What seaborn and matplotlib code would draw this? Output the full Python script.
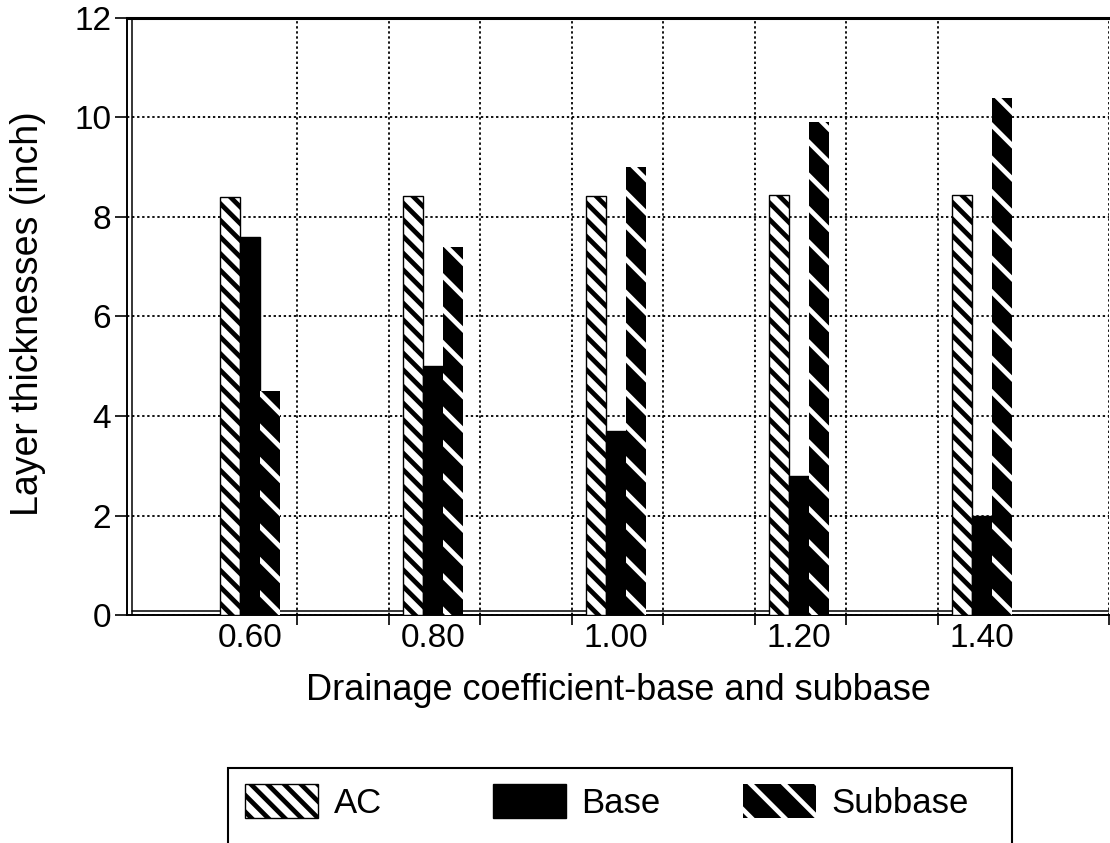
import matplotlib
matplotlib.use("Agg")
import matplotlib.pyplot as plt
import pandas as pd
import seaborn as sns
from matplotlib.patches import Patch, Rectangle
from matplotlib.lines import Line2D

# ---- data ----
categories = ["0.60", "0.80", "1.00", "1.20", "1.40"]
series = ["AC", "Base", "Subbase"]
ac_values = [8.40, 8.42, 8.43, 8.44, 8.45]
base_values = [7.6, 5.0, 3.7, 2.8, 2.0]
subbase_values = [4.5, 7.4, 9.0, 9.9, 10.4]
y_ticks = [0, 2, 4, 6, 8, 10, 12]
x_label = "Drainage coefficient-base and subbase"
y_label = "Layer thicknesses (inch)"

df = pd.DataFrame({
    "coef": categories * 3,
    "layer": [s for s in series for _ in categories],
    "value": ac_values + base_values + subbase_values,
})

# fill style per series: (face, hatch/edge colour, hatch, edge width)
styles = {
    "AC": ("white", "black", "\\\\", 1.0),
    "Base": ("black", "black", None, 1.0),
    "Subbase": ("black", "white", "\\", 0.0),
}
HATCH_LW = 3.4

sns.set_theme(style="white")
plt.rcParams["font.family"] = ["Liberation Sans", "DejaVu Sans"]
plt.rcParams["text.color"] = "black"
plt.rcParams["hatch.linewidth"] = HATCH_LW

W, H = 1110, 843
fig = plt.figure(figsize=(W / 100, H / 100), dpi=100)
ax_left, ax_right, ax_top, ax_bottom = 127, 1109, 18, 615
ax = fig.add_axes([ax_left / W, 1 - ax_bottom / H, (ax_right - ax_left) / W, (ax_bottom - ax_top) / H])

sns.barplot(data=df, x="coef", y="value", hue="layer", order=categories,
            hue_order=series, palette={s: "black" for s in series},
            saturation=1, width=0.33, gap=0, errorbar=None, legend=False,
            ax=ax, zorder=3)

def style_patch(p, name):
    face, edge, hatch, lw = styles[name]
    p.set_facecolor(face)
    p.set_edgecolor(edge)
    p.set_linewidth(lw)
    p.set_hatch(hatch)
    if hasattr(p, "set_hatch_linewidth"):
        p.set_hatch_linewidth(HATCH_LW)

for cont, name in zip(ax.containers, series):
    for bar in cont:
        style_patch(bar, name)

# axes limits (3D-style chart frame)
n = len(categories)
ax.set_xlim(-0.672, n - 1 + 0.694)
ax.set_ylim(y_ticks[0], y_ticks[-1])
ax.set_yticks(y_ticks)
ax.set_xticks(range(n))
ax.set_xticklabels(categories)
minor = [0.257 + 0.5 * k for k in range(2 * n - 2)] + [n - 1 + 0.694]
ax.set_xticks(minor, minor=True)

ax.tick_params(axis="x", which="major", length=0, pad=6, labelsize=24, colors="black")
ax.tick_params(axis="x", which="minor", length=7.5, width=1.2, direction="out",
               bottom=True, color="black")
ax.tick_params(axis="y", which="major", length=8.5, width=1.2, direction="out",
               left=True, pad=3, labelsize=24, colors="black")

dot = (0, (1.3, 1.5))
ax.grid(False)
ax.grid(axis="y", which="major", color="black", linestyle=dot, linewidth=1.3)
ax.grid(axis="x", which="minor", color="black", linestyle=dot, linewidth=1.3)
ax.set_axisbelow(True)

for side in ["left", "bottom"]:
    ax.spines[side].set_color("black")
    ax.spines[side].set_linewidth(1.4)
ax.spines["top"].set_color("black")
ax.spines["top"].set_linewidth(2.2)
ax.spines["right"].set_visible(False)

# 3D wall / floor double lines
ax.add_line(Line2D([5 / 982, 5 / 982], [0, 1], transform=ax.transAxes,
                   color="black", lw=1.1, zorder=2))
ax.add_line(Line2D([5 / 982, 1], [4 / 597, 4 / 597], transform=ax.transAxes,
                   color="black", lw=1.1, zorder=2))

ax.set_xlabel(x_label, fontsize=26, color="black")
ax.set_ylabel(y_label, fontsize=27, color="black")
ax.xaxis.set_label_coords(0.5, (615 - 673) / 597)
ax.yaxis.set_label_coords((46 - 127) / 982, 0.505)

# legend: frame + three entries at fixed pitch
fig.patches.append(Rectangle((228 / W, -0.05), (1012 - 228) / W, (843 - 768) / H + 0.05,
                             transform=fig.transFigure, fill=False,
                             edgecolor="black", linewidth=1.5))
patch_x = [245, 493, 743]
for name, px in zip(series, patch_x):
    face, edge, hatch, lw = styles[name]
    h = Patch(facecolor=face, edgecolor=edge, linewidth=lw, hatch=hatch)
    if hasattr(h, "set_hatch_linewidth"):
        h.set_hatch_linewidth(HATCH_LW)
    fig.legend(handles=[h], labels=[name], loc="center left",
               bbox_to_anchor=(px / W, 1 - 802 / H), frameon=False,
               fontsize=25, handlelength=2.1, handleheight=1.12,
               handletextpad=0.45, borderpad=0, borderaxespad=0,
               labelcolor="black")

fig.savefig("out.png", dpi=100, facecolor="white")
